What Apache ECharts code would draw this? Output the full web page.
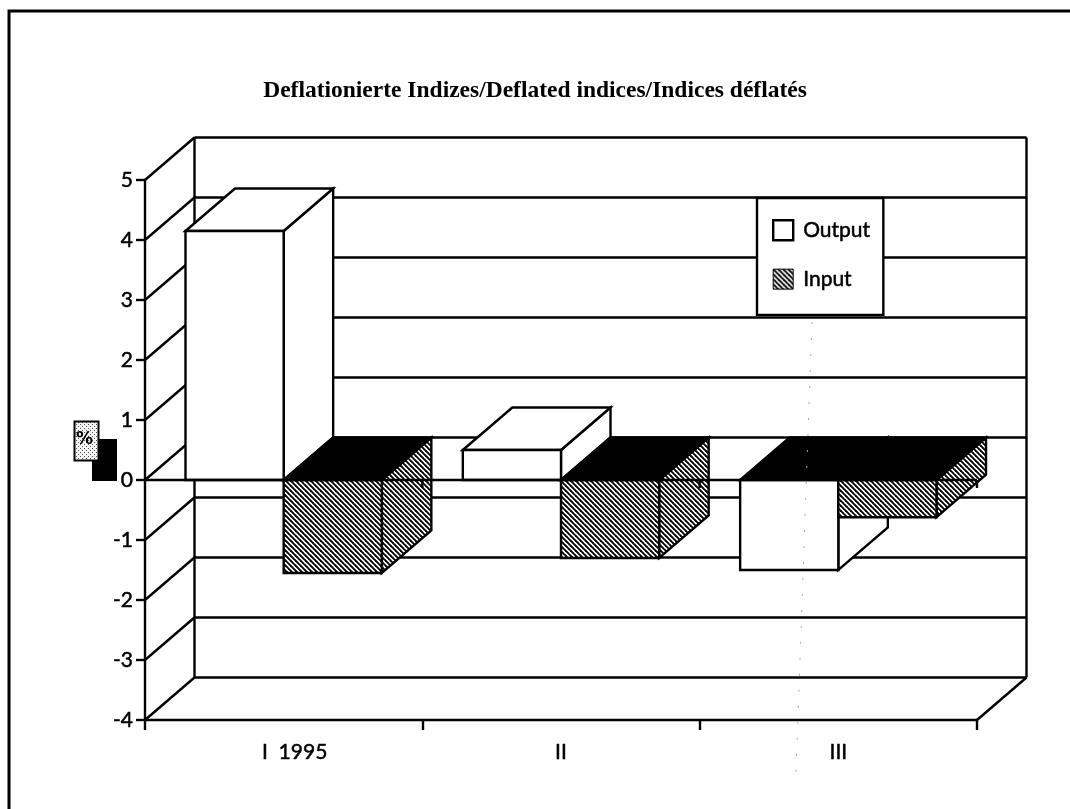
<!DOCTYPE html>
<html>
<head>
<meta charset="utf-8">
<style>html,body{margin:0;padding:0;background:#fff}#c{width:1070px;height:809px}</style>
<script src="https://cdn.jsdelivr.net/npm/echarts@6/dist/echarts.min.js"></script>
</head>
<body>
<div id="c"></div>
<script>
const categories = ['I  1995', 'II', 'III'];
const outputValues = [4.15, 0.5, -1.5];
const inputValues = [-1.55, -1.3, -0.62];
const gridValues = [5, 4, 3, 2, 1, 0, -1, -2, -3, -4];

const DX = 49.5, DY = 42.5, BAR = 0.354, INK = '#000', LW = 2.4;

function hatchPattern() {
  const s = 5, c = document.createElement('canvas');
  c.width = s; c.height = s;
  const g = c.getContext('2d');
  g.fillStyle = '#fff'; g.fillRect(0, 0, s, s);
  g.strokeStyle = '#000'; g.lineWidth = 1.9;
  for (let k = -1; k <= 1; k++) {
    g.beginPath(); g.moveTo(k * s - 1, -1); g.lineTo(k * s + s + 1, s + 1); g.stroke();
  }
  return { image: c, repeat: 'repeat' };
}
function stipple() {
  const c = document.createElement('canvas');
  c.width = 4; c.height = 4;
  const g = c.getContext('2d');
  g.fillStyle = '#f4f4f4'; g.fillRect(0, 0, 4, 4);
  g.fillStyle = '#555'; g.fillRect(0, 0, 1, 1); g.fillRect(2, 2, 1, 1);
  return { image: c, repeat: 'repeat' };
}
const hatch = hatchPattern();

function poly(points, fill) {
  return { type: 'polygon', shape: { points }, style: { fill, stroke: INK, lineWidth: LW, lineJoin: 'miter' } };
}
function seg(x1, y1, x2, y2) {
  return { type: 'line', shape: { x1, y1, x2, y2 }, style: { stroke: INK, lineWidth: LW } };
}

function renderWalls(params, api) {
  const y = api.coord([0, api.value(0)])[1];
  const band = api.size([1, 0])[0];
  const left = api.coord([0, 0])[0] - band / 2;
  const right = left + band * categories.length;
  const kids = [
    seg(left, y, left + DX, y - DY),
    seg(left + DX, y - DY, right + DX, y - DY)
  ];
  if (params.dataIndex === 0) {
    const bottom = api.coord([0, gridValues[gridValues.length - 1]])[1];
    kids.push(seg(left + DX, y - DY, left + DX, bottom - DY));
    kids.push(seg(right + DX, y - DY, right + DX, bottom - DY));
    kids.push(seg(right, bottom, right + DX, bottom - DY));
  }
  return { type: 'group', children: kids };
}

function renderBar(side, fill) {
  return function (params, api) {
    const cat = api.value(0), val = api.value(1);
    const c = api.coord([cat, 0]);
    const band = api.size([1, 0])[0];
    const w = band * BAR;
    const x0 = side === 0 ? c[0] - w : c[0];
    const x1 = x0 + w;
    const y0 = c[1];
    const yv = api.coord([cat, val])[1];
    const top = Math.min(y0, yv), bot = Math.max(y0, yv);
    const topFill = val < 0 ? INK : '#fff';
    return {
      type: 'group',
      children: [
        poly([[x1, top], [x1 + DX, top - DY], [x1 + DX, bot - DY], [x1, bot]], fill),
        poly([[x0, top], [x0 + DX, top - DY], [x1 + DX, top - DY], [x1, top]], topFill),
        poly([[x0, top], [x1, top], [x1, bot], [x0, bot]], fill)
      ]
    };
  };
}

function renderZero(params, api) {
  const band = api.size([1, 0])[0];
  const c = api.coord([0, api.value(0)]);
  const left = c[0] - band / 2;
  const kids = [seg(left, c[1], left + band * categories.length, c[1])];
  for (let i = 1; i <= categories.length; i++) {
    kids.push(seg(left + band * i, c[1], left + band * i, c[1] + 8));
  }
  return { type: 'group', children: kids };
}

const axisFont = { fontFamily: 'Lato', fontSize: 21, color: '#000', textBorderColor: '#000', textBorderWidth: 0.5 };
const chart = echarts.init(document.getElementById('c'), null, { renderer: 'canvas' });
chart.setOption({
  animation: false,
  backgroundColor: '#fff',
  title: {
    text: 'Deflationierte Indizes/Deflated indices/Indices déflatés',
    left: 'center', top: 74,
    textStyle: { fontFamily: 'Liberation Serif', fontWeight: 'bold', fontSize: 23.5, color: '#000' }
  },
  grid: { left: 145, right: 93, top: 180, bottom: 89 },
  xAxis: {
    type: 'category', data: categories, position: 'bottom',
    axisLine: { onZero: false, lineStyle: { color: INK, width: LW } },
    axisTick: { show: true, length: 10, alignWithLabel: false, lineStyle: { color: INK, width: LW } },
    axisLabel: Object.assign({}, axisFont, { margin: 22,
      formatter: v => v.indexOf('1995') >= 0 ? '{a|' + v + '}' : v,
      rich: { a: Object.assign({}, axisFont, { padding: [0, 0, 0, 22] }) } })
  },
  yAxis: {
    type: 'value', min: -4, max: 5, interval: 1,
    splitLine: { show: false },
    axisLine: { show: true, onZero: false, lineStyle: { color: INK, width: LW } },
    axisTick: { show: true, length: 9, lineStyle: { color: INK, width: LW } },
    axisLabel: Object.assign({}, axisFont, { margin: 12 })
  },
  legend: {
    orient: 'vertical', left: 757, top: 198,
    padding: [21, 13, 25, 15], itemGap: 27, itemWidth: 20, itemHeight: 20,
    backgroundColor: '#fff', borderColor: INK, borderWidth: 2.4,
    icon: 'rect', textStyle: Object.assign({}, axisFont, { padding: [0, 0, 0, 5] }),
    data: [
      { name: 'Output', itemStyle: { color: '#fff', borderColor: INK, borderWidth: 2.4 } },
      { name: 'Input', itemStyle: { color: hatch, borderColor: INK, borderWidth: 1 } }
    ]
  },
  series: [
    { type: 'custom', name: 'walls', z: 1, silent: true, clip: false,
      data: gridValues.map(v => [v]), encode: { y: 0 }, renderItem: renderWalls },
    { type: 'custom', name: 'Output', z: 3, clip: false, itemStyle: { color: '#fff', borderColor: INK },
      data: categories.map((c, i) => [i, outputValues[i]]), encode: { x: 0, y: 1 }, renderItem: renderBar(0, '#fff') },
    { type: 'custom', name: 'Input', z: 4, clip: false, itemStyle: { color: '#555', borderColor: INK },
      data: categories.map((c, i) => [i, inputValues[i]]), encode: { x: 0, y: 1 }, renderItem: renderBar(1, hatch) },
    { type: 'custom', name: 'zero', z: 5, silent: true, clip: false,
      data: [[0]], encode: { y: 0 }, renderItem: renderZero }
  ],
  graphic: [
    { type: 'polyline', z: 0, silent: true, shape: { points: [[9, 809], [9, 11], [1070, 11]] },
      style: { fill: null, stroke: INK, lineWidth: 3 } },
    { type: 'line', z: 6, silent: true, shape: { x1: 812, y1: 322, x2: 796, y2: 772 },
      style: { stroke: '#aaa', lineWidth: 1, lineDash: [2, 14] } },
    { type: 'rect', z: 6, silent: true, shape: { x: 92, y: 439, width: 25, height: 42 }, style: { fill: INK } },
    { type: 'rect', z: 7, silent: true, shape: { x: 74.5, y: 421.5, width: 24, height: 39 },
      style: { fill: stipple(), stroke: INK, lineWidth: 2 } },
    { type: 'text', z: 8, silent: true, left: 76, top: 431,
      style: { text: '%', fontFamily: 'DejaVu Sans', fontWeight: 'bold', fontSize: 17, fill: INK } }
  ]
});
</script>
</body>
</html>
